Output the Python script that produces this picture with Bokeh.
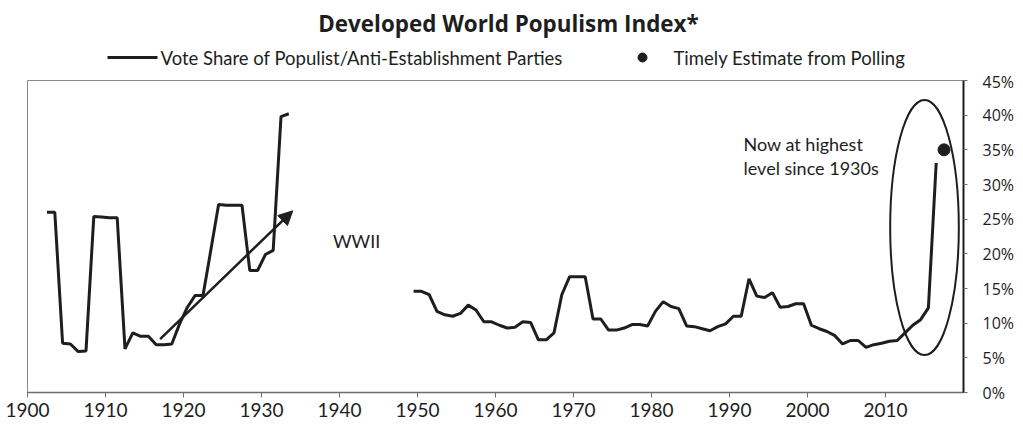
from bokeh.plotting import figure
from bokeh.layouts import column
from bokeh.models import (Label, Arrow, NormalHead, FixedTicker, PrintfTickFormatter, Range1d)
from bokeh.core.properties import value
from bokeh.embed import file_html
from bokeh.resources import INLINE

# ---- data (annual values, plotted mid-year) ----
early_years = list(range(1902, 1934))
early_share = [26.0, 26.0, 7.1, 7.0, 5.9, 6.0, 25.4, 25.3, 25.2, 25.2,
               6.3, 8.6, 8.1, 8.1, 6.9, 6.9, 7.0, 9.9, 12.3, 14.0,
               14.0, 20.5, 27.1, 27.0, 27.0, 27.0, 17.6, 17.6, 19.9, 20.5,
               39.8, 40.2]

post_years = list(range(1949, 2017))
post_share = [14.6, 14.6, 14.1, 11.7, 11.2, 11.0, 11.4, 12.6, 11.9, 10.2,
              10.2, 9.7, 9.3, 9.4, 10.2, 10.1, 7.6, 7.6, 8.6, 14.1,
              16.7, 16.7, 16.7, 10.6, 10.6, 9.0, 9.0, 9.3, 9.8, 9.8,
              9.6, 11.7, 13.1, 12.4, 12.1, 9.6, 9.5, 9.2, 8.9, 9.5,
              9.9, 11.0, 11.0, 16.4, 13.9, 13.7, 14.4, 12.3, 12.4, 12.8,
              12.8, 9.7, 9.2, 8.8, 8.2, 7.0, 7.5, 7.5, 6.5, 6.9,
              7.1, 7.4, 7.5, 8.6, 9.7, 10.5, 12.2, 33.1]

poll_years = [2017]
poll_share = [35.0]

x_ticks = list(range(1900, 2011, 10))
y_ticks = list(range(0, 46, 5))

title_text = "Developed World Populism Index*"
legend_labels = ["Vote Share of Populist/Anti-Establishment Parties",
                 "Timely Estimate from Polling"]

# annotation anchors (data units)
arrow_from = (1917.0, 7.7)
arrow_to = (1934.0, 26.2)
ellipse_center = (2015.0, 23.8)
ellipse_size = (8.8, 36.8)

INK = "#1e1e1e"
FONT = "Lato"
W = 1023
LEFT, RIGHT = 27, 60
HEAD_H = 70
TOP_GAP = 10

# ---------------- header: title + legend (page-pixel space) ----------------
head = figure(width=W, height=HEAD_H, output_backend="svg", toolbar_location=None,
              x_range=Range1d(LEFT, W - RIGHT), y_range=Range1d(HEAD_H, 0),
              x_axis_location=None, y_axis_location=None,
              min_border_left=LEFT, min_border_right=RIGHT, min_border_top=0,
              min_border_bottom=0)
head.grid.visible = False
head.outline_line_color = None

head.text(x=[508], y=[23], text=[title_text], text_align="center", text_baseline="middle",
          text_font=value("Open Sans"), text_font_size="22.4px", text_font_style="bold",
          text_color=INK)
head.line(x=[107, 157], y=[57, 57], line_color=INK, line_width=3)
head.text(x=[160], y=[57], text=[legend_labels[0]], text_align="left", text_baseline="middle",
          text_font=value(FONT), text_font_size="18.5px", text_color=INK)
head.scatter(x=[642], y=[57], size=9, fill_color=INK, line_color=INK)
head.text(x=[673], y=[57], text=[legend_labels[1]], text_align="left", text_baseline="middle",
          text_font=value(FONT), text_font_size="18.5px", text_color=INK)

# ---------------- main chart ----------------
p = figure(width=W, height=425 - HEAD_H, output_backend="svg", toolbar_location=None,
           x_range=(1900, 2020), y_range=(0, 45), y_axis_location="right",
           min_border_left=LEFT, min_border_right=RIGHT, min_border_top=TOP_GAP,
           min_border_bottom=33)

mid = 0.5
p.line([y + mid for y in early_years], early_share, line_color=INK, line_width=3)
p.line([y + mid for y in post_years], post_share, line_color=INK, line_width=3)
p.scatter([y + mid for y in poll_years], poll_share, size=12,
          fill_color=INK, line_color=INK)

p.ellipse(x=[ellipse_center[0]], y=[ellipse_center[1]], width=ellipse_size[0],
          height=ellipse_size[1], fill_color=None, line_color=INK, line_width=2)

p.add_layout(Arrow(end=NormalHead(size=14, fill_color=INK, line_color=INK),
                   x_start=arrow_from[0], y_start=arrow_from[1],
                   x_end=arrow_to[0], y_end=arrow_to[1],
                   line_color=INK, line_width=2.5))

p.add_layout(Label(x=1942.2, y=21.9, text="WWII", text_align="center",
                   text_baseline="middle", text_font=FONT, text_font_size="18px",
                   text_color=INK))
p.add_layout(Label(x=1991.8, y=35.8, text="Now at highest", text_align="left",
                   text_baseline="middle", text_font=FONT, text_font_size="18px",
                   text_color=INK))
p.add_layout(Label(x=1991.8, y=32.4, text="level since 1930s", text_align="left",
                   text_baseline="middle", text_font=FONT, text_font_size="18px",
                   text_color=INK))

p.grid.visible = False
p.outline_line_color = "#8a8a8a"
p.outline_line_width = 1

xa = p.xaxis[0]
xa.ticker = FixedTicker(ticks=x_ticks)
xa.axis_line_color = "#6e6e6e"
xa.axis_line_width = 1.5
xa.major_tick_line_color = "#6e6e6e"
xa.major_tick_out = 5
xa.major_tick_in = 0
xa.minor_tick_line_color = None
xa.major_label_text_font = FONT
xa.major_label_text_font_size = "19px"
xa.major_label_text_color = INK
xa.major_label_standoff = 5

ya = p.yaxis[0]
ya.ticker = FixedTicker(ticks=y_ticks)
ya.formatter = PrintfTickFormatter(format="%d%%")
ya.axis_line_color = INK
ya.axis_line_width = 2
ya.major_tick_line_color = "#6e6e6e"
ya.major_tick_out = 4
ya.major_tick_in = 0
ya.minor_tick_line_color = None
ya.major_label_text_font = "Open Sans"
ya.major_label_text_font_size = "16px"
ya.major_label_text_color = INK
ya.major_label_standoff = 15

open("out.html", "w").write(file_html(column(head, p, spacing=0), INLINE))
